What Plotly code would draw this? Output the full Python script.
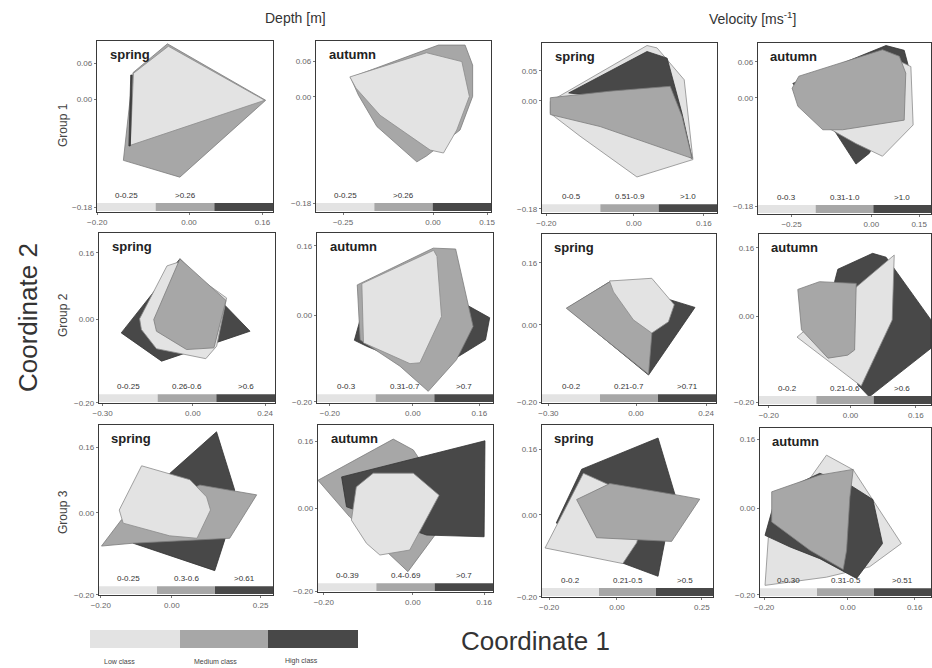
import plotly.graph_objects as go

W, H = 932, 668

# ---------------- data: convex-hull vertices (Coordinate 1, Coordinate 2) ----------------
# Group 1 - Depth
g1_depth_spring_low = [(-0.121, 0.043), (-0.045, 0.088), (0.165, -0.002), (-0.128, -0.077)]
g1_depth_spring_med = [(-0.122, 0.044), (-0.047, 0.092), (0.167, -0.002), (-0.020, -0.130), (-0.143, -0.102)]
g1_depth_spring_high = [(-0.124, 0.040), (-0.128, -0.078), (-0.131, -0.078), (-0.127, 0.040)]
g1_depth_autumn_low = [(-0.231, 0.034), (-0.018, 0.075), (0.080, 0.060), (0.101, 0.001), (0.066, -0.056),
                       (0.029, -0.095), (-0.008, -0.090), (-0.147, -0.031), (-0.214, 0.015)]
g1_depth_autumn_med = [(-0.229, 0.033), (-0.027, 0.078), (0.015, 0.088), (0.089, 0.088), (0.110, 0.054),
                       (0.110, 0.001), (0.075, -0.056), (-0.018, -0.100), (-0.045, -0.110), (-0.156, -0.050),
                       (-0.207, 0.003)]
# Group 1 - Velocity
g1_vel_spring_low = [(-0.191, -0.001), (0.030, 0.092), (0.053, 0.088), (0.115, 0.035), (0.135, -0.098),
                     (0.007, -0.127), (-0.123, -0.059), (-0.191, -0.021)]
g1_vel_spring_high = [(-0.149, 0.013), (0.030, 0.082), (0.076, 0.071), (0.110, -0.021), (0.133, -0.096),
                      (-0.077, 0.007)]
g1_vel_spring_med = [(-0.191, 0.005), (-0.054, 0.016), (0.083, 0.024), (0.110, -0.026), (0.133, -0.096),
                     (-0.077, -0.043), (-0.191, -0.023)]
g1_vel_autumn_high = [(-0.246, 0.024), (0.046, 0.087), (0.103, 0.079), (0.119, 0.047), (-0.006, -0.092),
                      (-0.048, -0.110), (-0.110, -0.059)]
g1_vel_autumn_low = [(-0.142, -0.048), (0.056, 0.069), (0.124, 0.052), (0.131, -0.045), (0.035, -0.097),
                     (-0.048, -0.076)]
g1_vel_autumn_med = [(-0.248, 0.016), (-0.227, 0.036), (0.035, 0.080), (0.088, 0.069), (0.108, 0.041),
                     (0.103, -0.037), (-0.090, -0.053), (-0.152, -0.053), (-0.230, -0.014)]

# Group 2 - Depth
g2_depth_spring_high = [(-0.238, -0.032), (-0.043, 0.146), (0.190, -0.028), (-0.104, -0.100)]
g2_depth_spring_low = [(-0.177, 0.002), (-0.086, 0.129), (-0.052, 0.137), (0.112, 0.052), (0.079, -0.064),
                       (0.043, -0.094), (-0.121, -0.070), (-0.171, -0.024)]
g2_depth_spring_med = [(-0.130, 0.000), (-0.043, 0.146), (0.110, 0.046), (0.070, -0.068), (-0.021, -0.072),
                       (-0.121, -0.028)]
g2_depth_autumn_high = [(-0.141, -0.058), (-0.127, -0.010), (0.025, 0.067), (0.129, 0.024), (0.185, -0.006),
                        (0.175, -0.057), (0.097, -0.103), (-0.015, -0.110), (-0.111, -0.072)]
g2_depth_autumn_med = [(-0.134, 0.070), (0.049, 0.155), (0.103, 0.153), (0.145, -0.026), (0.105, -0.103),
                       (0.037, -0.176), (-0.031, -0.118), (-0.127, -0.057)]
g2_depth_autumn_low = [(-0.123, 0.073), (0.050, 0.150), (0.058, 0.136), (0.069, -0.003), (0.017, -0.110),
                       (-0.007, -0.112), (-0.119, -0.064)]
# Group 2 - Velocity
g2_vel_spring_high = [(-0.236, 0.043), (-0.088, 0.112), (0.202, 0.045), (0.043, -0.129)]
g2_vel_spring_med = [(-0.239, 0.043), (-0.088, 0.112), (0.043, 0.112), (0.054, -0.025), (0.043, -0.127)]
g2_vel_spring_low = [(-0.091, 0.113), (0.054, 0.120), (0.131, 0.052), (0.111, 0.008), (0.054, -0.021),
                     (-0.009, 0.013), (-0.077, 0.085)]
g2_vel_autumn_high = [(-0.039, 0.081), (-0.031, 0.110), (0.054, 0.147), (0.087, 0.138), (0.197, -0.008),
                      (0.197, -0.074), (0.046, -0.187), (0.018, -0.159)]
g2_vel_autumn_low = [(-0.131, -0.048), (0.107, 0.143), (0.102, -0.008), (0.026, -0.162)]
g2_vel_autumn_med = [(-0.129, 0.063), (-0.076, 0.081), (0.014, 0.077), (0.010, -0.078), (-0.007, -0.090),
                     (-0.055, -0.097), (-0.120, -0.031)]

# Group 3 - Depth
g3_depth_spring_high = [(-0.109, -0.074), (-0.006, 0.096), (0.126, 0.198), (0.177, 0.056), (0.149, -0.066),
                        (0.121, -0.141)]
g3_depth_spring_med = [(-0.198, -0.081), (-0.142, -0.017), (0.079, 0.068), (0.239, 0.044), (0.163, -0.062),
                       (-0.109, -0.074)]
g3_depth_spring_low = [(-0.148, 0.007), (-0.085, 0.115), (0.051, 0.081), (0.098, 0.039), (0.109, 0.007),
                       (0.071, -0.062), (-0.006, -0.056), (-0.137, -0.025)]
g3_depth_autumn_med = [(-0.213, 0.067), (-0.044, 0.166), (0.001, 0.140), (0.091, -0.005), (-0.011, -0.153),
                       (-0.142, -0.021)]
g3_depth_autumn_high = [(-0.160, 0.075), (0.162, 0.162), (0.160, -0.069), (0.031, -0.065), (-0.149, 0.003)]
g3_depth_autumn_low = [(-0.138, -0.029), (-0.127, 0.051), (-0.089, 0.084), (0.001, 0.084), (0.059, 0.031),
                       (-0.007, -0.101), (-0.074, -0.113), (-0.104, -0.085)]
# Group 3 - Velocity
g3_vel_spring_high = [(-0.179, -0.020), (-0.104, 0.111), (0.121, 0.187), (0.171, 0.049), (0.141, -0.065),
                      (0.121, -0.150), (0.014, -0.117)]
g3_vel_spring_low = [(-0.212, -0.081), (-0.099, 0.101), (-0.021, 0.072), (0.077, -0.012), (0.058, -0.068),
                     (0.017, -0.119)]
g3_vel_spring_med = [(-0.119, 0.037), (-0.021, 0.076), (0.171, 0.049), (0.244, 0.038), (0.161, -0.065),
                     (-0.060, -0.056)]
g3_vel_autumn_low = [(-0.198, -0.178), (-0.190, -0.066), (-0.051, 0.124), (0.013, 0.090), (0.128, -0.081),
                     (0.052, -0.135), (-0.051, -0.159)]
g3_vel_autumn_high = [(-0.198, -0.062), (-0.170, 0.035), (-0.067, 0.082), (0.005, 0.055), (0.060, 0.021),
                      (0.083, -0.081), (0.021, -0.162), (-0.067, -0.116), (-0.138, -0.089)]
g3_vel_autumn_med = [(-0.182, 0.039), (-0.067, 0.078), (0.013, 0.091), (0.005, 0.027), (-0.003, -0.097),
                     (-0.011, -0.141), (-0.090, -0.097), (-0.182, -0.031)]

# class-interval labels of each panel (low, medium, high)
g1_depth_spring_classes = ["0-0.25", ">0.26", ""]
g1_depth_autumn_classes = ["0-0.25", ">0.26", ""]
g1_vel_spring_classes = ["0-0.5", "0.51-0.9", ">1.0"]
g1_vel_autumn_classes = ["0-0.3", "0.31-1.0", ">1.0"]
g2_depth_spring_classes = ["0-0.25", "0.26-0.6", ">0.6"]
g2_depth_autumn_classes = ["0-0.3", "0.31-0.7", ">0.7"]
g2_vel_spring_classes = ["0-0.2", "0.21-0.7", ">0.71"]
g2_vel_autumn_classes = ["0-0.2", "0.21-0.6", ">0.6"]
g3_depth_spring_classes = ["0-0.25", "0.3-0.6", ">0.61"]
g3_depth_autumn_classes = ["0-0.39", "0.4-0.69", ">0.7"]
g3_vel_spring_classes = ["0-0.2", "0.21-0.5", ">0.5"]
g3_vel_autumn_classes = ["0-0.30", "0.31-0.5", ">0.51"]

# tick values
g1_xticks_a = [-0.20, 0.00, 0.16]
g1_xticks_b = [-0.25, 0.00, 0.15]
g1_yticks_a = [-0.18, 0.00, 0.06]
g1_yticks_b = [-0.18, 0.00, 0.05]
g2_xticks_a = [-0.30, 0.00, 0.24]
g2_xticks_b = [-0.20, 0.00, 0.16]
g3_xticks_a = [-0.20, 0.00, 0.25]
g3_xticks_b = [-0.20, 0.00, 0.16]
g23_yticks = [-0.20, 0.00, 0.16]

seasons = ["spring", "autumn", "spring", "autumn"]
groups = ["Group 1", "Group 2", "Group 3"]
class_names = ["Low class", "Medium class", "High class"]

# ---------------- styling ----------------
FILL = {"low": "#e3e3e3", "med": "#a7a7a7", "high": "#484848"}
EDGE = {"low": "#8c8c8c", "med": "#7c7c7c", "high": "#333333"}

panels = [
    dict(box=(97, 41, 273, 212), xr=(-0.2005, 0.183), yr=(-0.188, 0.0967), xt=g1_xticks_a, yt=g1_yticks_a,
         season=seasons[0], classes=g1_depth_spring_classes,
         polys=[("med", g1_depth_spring_med), ("low", g1_depth_spring_low), ("high", g1_depth_spring_high)]),
    dict(box=(316, 41, 491, 212), xr=(-0.325, 0.161), yr=(-0.195, 0.0949), xt=g1_xticks_b, yt=g1_yticks_a,
         season=seasons[1], classes=g1_depth_autumn_classes,
         polys=[("med", g1_depth_autumn_med), ("low", g1_depth_autumn_low)]),
    dict(box=(542, 43, 717, 213), xr=(-0.210, 0.190), yr=(-0.187, 0.0962), xt=g1_xticks_a, yt=g1_yticks_b,
         season=seasons[2], classes=g1_vel_spring_classes,
         polys=[("low", g1_vel_spring_low), ("high", g1_vel_spring_high), ("med", g1_vel_spring_med)]),
    dict(box=(758, 43, 931, 214), xr=(-0.355, 0.187), yr=(-0.193, 0.0912), xt=g1_xticks_b, yt=g1_yticks_a,
         season=seasons[3], classes=g1_vel_autumn_classes,
         polys=[("high", g1_vel_autumn_high), ("low", g1_vel_autumn_low), ("med", g1_vel_autumn_med)]),
    dict(box=(99, 233, 275, 403), xr=(-0.312, 0.273), yr=(-0.2005, 0.208), xt=g2_xticks_a, yt=g23_yticks,
         season=seasons[0], classes=g2_depth_spring_classes,
         polys=[("high", g2_depth_spring_high), ("low", g2_depth_spring_low), ("med", g2_depth_spring_med)]),
    dict(box=(317, 233, 493, 403), xr=(-0.231, 0.193), yr=(-0.203, 0.190), xt=g2_xticks_b, yt=g23_yticks,
         season=seasons[1], classes=g2_depth_autumn_classes,
         polys=[("high", g2_depth_autumn_high), ("med", g2_depth_autumn_med), ("low", g2_depth_autumn_low)]),
    dict(box=(542, 234, 716, 403), xr=(-0.322, 0.274), yr=(-0.201, 0.234), xt=g2_xticks_a, yt=g23_yticks,
         season=seasons[2], classes=g2_vel_spring_classes,
         polys=[("high", g2_vel_spring_high), ("med", g2_vel_spring_med), ("low", g2_vel_spring_low)]),
    dict(box=(759, 234, 931, 405), xr=(-0.224, 0.197), yr=(-0.206, 0.192), xt=g2_xticks_b, yt=g23_yticks,
         season=seasons[3], classes=g2_vel_autumn_classes,
         polys=[("high", g2_vel_autumn_high), ("low", g2_vel_autumn_low), ("med", g2_vel_autumn_med)]),
    dict(box=(99, 425, 273, 595), xr=(-0.205, 0.285), yr=(-0.2005, 0.2146), xt=g3_xticks_a, yt=g23_yticks,
         season=seasons[0], classes=g3_depth_spring_classes,
         polys=[("high", g3_depth_spring_high), ("med", g3_depth_spring_med), ("low", g3_depth_spring_low)]),
    dict(box=(318, 425, 493, 592), xr=(-0.213, 0.180), yr=(-0.202, 0.200), xt=g3_xticks_b, yt=g23_yticks,
         season=seasons[1], classes=g3_depth_autumn_classes,
         polys=[("med", g3_depth_autumn_med), ("high", g3_depth_autumn_high), ("low", g3_depth_autumn_low)]),
    dict(box=(542, 425, 713, 597), xr=(-0.221, 0.283), yr=(-0.2005, 0.2187), xt=g3_xticks_a, yt=g23_yticks,
         season=seasons[2], classes=g3_vel_spring_classes,
         polys=[("high", g3_vel_spring_high), ("low", g3_vel_spring_low), ("med", g3_vel_spring_med)]),
    dict(box=(760, 428, 931, 597), xr=(-0.210, 0.199), yr=(-0.205, 0.187), xt=g3_xticks_b, yt=g23_yticks,
         season=seasons[3], classes=g3_vel_autumn_classes,
         polys=[("low", g3_vel_autumn_low), ("high", g3_vel_autumn_high), ("med", g3_vel_autumn_med)]),
]

FONT = "Liberation Sans, Arial, sans-serif"
fig = go.Figure()
layout = {}
shapes = []
annotations = []

for i, p in enumerate(panels, start=1):
    sfx = "" if i == 1 else str(i)
    xa, ya = "x" + sfx, "y" + sfx
    L, T, R, B = p["box"]
    for cls, poly in p["polys"]:
        xs = [v[0] for v in poly] + [poly[0][0]]
        ys = [v[1] for v in poly] + [poly[0][1]]
        fig.add_trace(go.Scatter(
            x=xs, y=ys, mode="lines", fill="toself", fillcolor=FILL[cls],
            line=dict(color=EDGE[cls], width=0.8), xaxis=xa, yaxis=ya,
            showlegend=False, hoverinfo="skip"))
    axstyle = dict(showgrid=False, zeroline=False, showline=True, mirror=True, automargin=False,
                   linecolor="#3a3a3a", linewidth=1.3, ticks="outside", ticklen=2,
                   tickcolor="#777", tickfont=dict(size=8, color="#666", family=FONT),
                   tickformat=".2f", fixedrange=True)
    layout["xaxis" + sfx] = dict(axstyle, domain=[L / W, R / W], range=list(p["xr"]),
                                 tickvals=p["xt"], anchor=ya)
    layout["yaxis" + sfx] = dict(axstyle, domain=[1 - B / H, 1 - T / H], range=list(p["yr"]),
                                 tickvals=p["yt"], anchor=xa)
    # class colour bar inside the panel
    xd, yd = xa + " domain", ya + " domain"
    for k, cls in enumerate(["low", "med", "high"]):
        shapes.append(dict(type="rect", xref=xd, yref=yd, x0=k / 3, x1=(k + 1) / 3,
                           y0=0.006, y1=0.052, fillcolor=FILL[cls], line=dict(width=0), layer="above"))
        if p["classes"][k]:
            annotations.append(dict(xref=xd, yref=yd, x=(k + 0.5) / 3, y=0.058, yanchor="bottom",
                                    xanchor="center", text=p["classes"][k], showarrow=False,
                                    font=dict(size=8, color="#333", family=FONT)))
    annotations.append(dict(xref=xd, yref=yd, x=0.06, y=0.92, xanchor="left", yanchor="middle",
                            text="<b>" + p["season"] + "</b>", showarrow=False,
                            font=dict(size=13, color="#222", family=FONT)))

# headers and axis titles
annotations += [
    dict(xref="paper", yref="paper", x=295 / W, y=1 - 18 / H, xanchor="center", yanchor="middle",
         text="Depth [m]", showarrow=False, font=dict(size=14, color="#333", family=FONT)),
    dict(xref="paper", yref="paper", x=752 / W, y=1 - 18 / H, xanchor="center", yanchor="middle",
         text="Velocity [ms<sup>-1</sup>]", showarrow=False, font=dict(size=14, color="#333", family=FONT)),
    dict(xref="paper", yref="paper", x=28 / W, y=1 - 318 / H, xanchor="center", yanchor="middle",
         text="Coordinate 2", textangle=-90, showarrow=False, font=dict(size=26, color="#333", family=FONT)),
    dict(xref="paper", yref="paper", x=535 / W, y=1 - 641 / H, xanchor="center", yanchor="middle",
         text="Coordinate 1", showarrow=False, font=dict(size=26, color="#333", family=FONT)),
]
for g, yc in zip(groups, [125, 315, 512]):
    annotations.append(dict(xref="paper", yref="paper", x=63 / W, y=1 - yc / H, xanchor="center",
                            yanchor="middle", text=g, textangle=-90, showarrow=False,
                            font=dict(size=12, color="#444", family=FONT)))

# bottom class legend
for k, (cls, x0, x1) in enumerate([("low", 90, 180), ("med", 180, 268), ("high", 268, 358)]):
    shapes.append(dict(type="rect", xref="paper", yref="paper", x0=x0 / W, x1=x1 / W,
                       y0=1 - 648 / H, y1=1 - 630 / H, fillcolor=FILL[cls], line=dict(width=0)))
for name, xc in zip(class_names, [119, 215, 301]):
    annotations.append(dict(xref="paper", yref="paper", x=xc / W, y=1 - 661 / H, xanchor="center",
                            yanchor="middle", text=name, showarrow=False,
                            font=dict(size=7, color="#444", family=FONT)))

fig.update_layout(
    width=W, height=H, margin=dict(l=0, r=0, t=0, b=0),
    paper_bgcolor="white", plot_bgcolor="white",
    shapes=shapes, annotations=annotations, showlegend=False, **layout)

fig.write_html("out.html", config={"displayModeBar": False},
               post_script="document.body.style.margin='0';document.body.style.overflow='hidden';")
